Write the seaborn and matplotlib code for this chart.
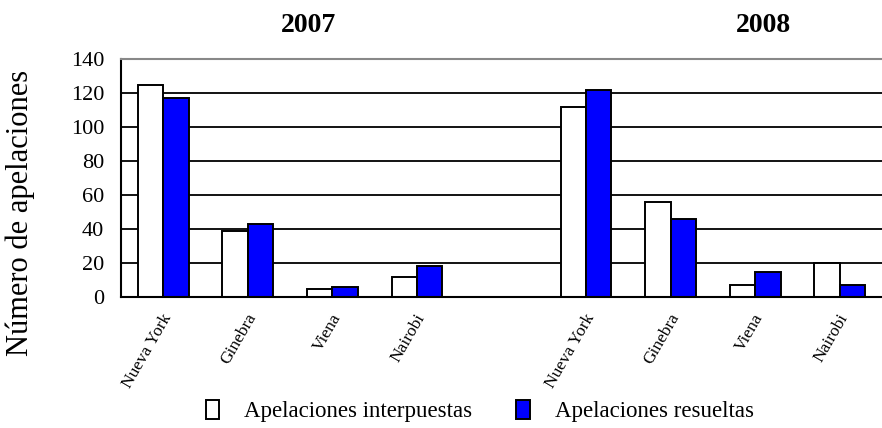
import numpy as np
import pandas as pd
import matplotlib
matplotlib.use("Agg")
import matplotlib.pyplot as plt
import seaborn as sns

# Data
cities = ["Nueva York", "Ginebra", "Viena", "Nairobi"]
years = ["2007", "2008"]
series_names = ["Apelaciones interpuestas", "Apelaciones resueltas"]
interpuestas_2007 = [125, 39, 5, 12]
resueltas_2007 = [117, 43, 6, 18]
interpuestas_2008 = [112, 56, 7, 20]
resueltas_2008 = [122, 46, 15, 7]
y_ticks = [0, 20, 40, 60, 80, 100, 120, 140]

# Build long table; one empty slot separates the two years
rows = []
values = {
    "2007": (interpuestas_2007, resueltas_2007),
    "2008": (interpuestas_2008, resueltas_2008),
}
for year in years:
    inter, resu = values[year]
    for city, a, b in zip(cities, inter, resu):
        rows.append({"slot": f"{year} {city}", "serie": series_names[0], "valor": a})
        rows.append({"slot": f"{year} {city}", "serie": series_names[1], "valor": b})
df = pd.DataFrame(rows)

order = [f"2007 {c}" for c in cities] + ["gap"] + [f"2008 {c}" for c in cities]
tick_labels = cities + [""] + cities

sns.set_style("white")
plt.rcParams["font.family"] = ["Liberation Serif", "DejaVu Serif"]
plt.rcParams["text.color"] = "black"
plt.rcParams["xtick.color"] = "black"
plt.rcParams["ytick.color"] = "black"

fig = plt.figure(figsize=(8.82, 4.28), dpi=100)
ax = fig.add_axes([121 / 882, 1 - 297 / 428, 1 - 121 / 882, (297 - 59) / 428])

sns.barplot(data=df, x="slot", y="valor", hue="serie", order=order,
            hue_order=series_names, palette=["white", "#0000FF"], saturation=1,
            edgecolor="black", linewidth=1.4, width=0.6, ax=ax)

handles, labels = ax.get_legend_handles_labels()
if ax.legend_ is not None:
    ax.legend_.remove()

ax.set_ylim(0, 140)
ax.set_xlim(-0.5, 8.45)
ax.set_yticks(y_ticks)
ax.set_yticklabels([str(t) for t in y_ticks], fontsize=16)
ax.yaxis.grid(True, color="black", linewidth=1.3)
ax.set_axisbelow(True)

# city labels sit a little right of the slot centre, like the original
ax.set_xticks(np.arange(len(order)) + 0.14)
ax.set_xticklabels(tick_labels, rotation=60, ha="right", fontsize=12.5)
ax.tick_params(axis="x", which="major", length=0, pad=10)
ax.set_xticks(np.arange(-0.5, len(order), 1), minor=True)
ax.tick_params(axis="x", which="minor", length=5, width=1.3, direction="out")
ax.tick_params(axis="y", length=6, width=1.3, direction="out", pad=6)

ax.set_xlabel("")
ax.set_ylabel("")
fig.text(20 / 882, 1 - 213 / 428, "Número de apelaciones", rotation=90,
         ha="center", va="center", fontsize=22)

ax.spines["right"].set_visible(False)
ax.spines["top"].set_color("#888888")
ax.spines["top"].set_linewidth(1.5)
for side in ["left", "bottom"]:
    ax.spines[side].set_color("black")
    ax.spines[side].set_linewidth(1.5)

fig.text(308 / 882, 1 - 25 / 428, "2007", ha="center", va="center",
         fontsize=20, fontweight="bold")
fig.text(763 / 882, 1 - 25 / 428, "2008", ha="center", va="center",
         fontsize=20, fontweight="bold")

fig.legend(handles, labels, loc="center", bbox_to_anchor=(0.544, 0.04), ncol=2,
           frameon=False, handlelength=0.6, handleheight=0.9, columnspacing=1.9,
           handletextpad=1.1, fontsize=16.5)

fig.savefig("out.png", dpi=100)
